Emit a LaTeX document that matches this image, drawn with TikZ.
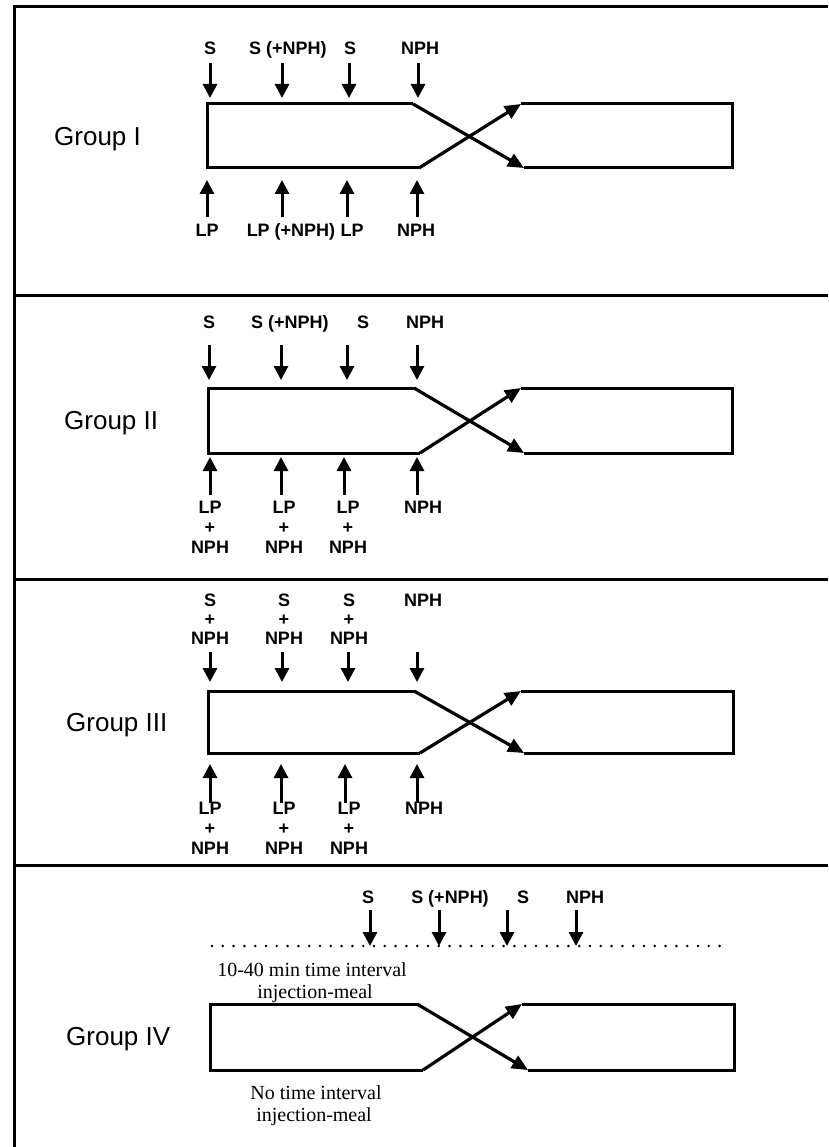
\documentclass[tikz,border=0pt]{standalone}
\usepackage{fontspec}
\usetikzlibrary{arrows.meta}
\newfontfamily\sansf{Liberation Sans}
\newfontfamily\seriff{Liberation Serif}
\begin{document}
\begin{tikzpicture}[x=1pt,y=-1pt,
  lab/.style={font=\sansf\bfseries\fontsize{18}{18}\selectfont, inner sep=0pt, text height=12.9pt, text depth=0pt},
  grp/.style={font=\sansf\fontsize{26}{26}\selectfont, inner sep=0pt, text height=18.6pt, text depth=0pt, anchor=west},
  note/.style={font=\seriff\fontsize{20}{20}\selectfont, inner sep=0pt, text height=13.2pt, text depth=0pt},
  frame/.style={line width=3pt},
  boxline/.style={line width=3pt, line join=miter},
  arr/.style={line width=3pt, -{Triangle[length=14pt,width=14pt]}},
  diag/.style={line width=3.2pt, -{Triangle[length=16pt,width=14pt]}},
  dotline/.style={line width=2.8pt, dash pattern=on 0pt off 10.8pt, line cap=round}
]
\useasboundingbox (0,0) rectangle (828,1147);
\fill[white] (0,0) rectangle (828,1147);

% frame and separators
\coordinate (ftl) at (14,7);
\coordinate (ftr) at (828,7);
\coordinate (fbl) at (14,1147);
\draw[frame] (ftr) -- (ftl) -- (fbl);
\foreach \i/\y in {1/295,2/579,3/865} {
  \coordinate (sepL\i) at (14,\y);
  \coordinate (sepR\i) at (828,\y);
  \draw[frame] (sepL\i) -- (sepR\i);
}

% crossover shapes
\foreach \g/\yt/\yb/\xl/\xtc/\xbc/\xrt/\xrb/\xr in {
  1/104/168/207/413/419/521/524/732,
  2/388/453/208/414/420/521/524/732,
  3/691/753/208/414/420/521/524/733,
  4/1004/1070/210/417/423/522/528/734} {
  \coordinate (g\g-tl) at (\xl,\yt);
  \coordinate (g\g-bl) at (\xl,\yb);
  \coordinate (g\g-tc) at (\xtc,\yt);
  \coordinate (g\g-bc) at (\xbc,\yb);
  \coordinate (g\g-rt) at (\xrt,\yt);
  \coordinate (g\g-rb) at (\xrb,\yb);
  \coordinate (g\g-rtr) at (\xr,\yt);
  \coordinate (g\g-rbr) at (\xr,\yb);
  \draw[boxline] (g\g-tc) -- (g\g-tl) -- (g\g-bl) -- (g\g-bc);
  \draw[diag] (g\g-tc) -- (g\g-rb);
  \draw[diag] (g\g-bc) -- (g\g-rt);
  \draw[boxline] (g\g-rt) -- (g\g-rtr) -- (g\g-rbr) -- (g\g-rb);
}

% group labels
\node[grp] (grp1) at (54,136.5) {Group I};
\node[grp] (grp2) at (64,420) {Group II};
\node[grp] (grp3) at (66,722) {Group III};
\node[grp] (grp4) at (66,1036) {Group IV};

% arrows
\foreach \n/\x/\ya/\yb in {
  a1/210/63/98, a2/282/63/98, a3/349/63/98, a4/418/63/98,
  b1/207/217/180, b2/282/217/180, b3/347/217/180, b4/417/217/180,
  c1/209/345/380, c2/281/345/380, c3/347/345/380, c4/417/345/380,
  d1/210/495/457, d2/281/495/457, d3/344/495/457, d4/417/495/457,
  e1/210/652/682, e2/282/652/682, e3/348/652/682, e4/417/652/682,
  f1/210/803/764, f2/281/803/764, f3/345/803/764, f4/417/803/764,
  h1/370/910/946, h2/439/910/946, h3/507/910/946, h4/576/910/946} {
  \coordinate (\n s) at (\x,\ya);
  \coordinate (\n e) at (\x,\yb);
  \draw[arr] (\n s) -- (\n e);
}

% Group I labels
\node[lab] (l1a) at (210,48) {S};
\node[lab] (l1b) at (288,48) {S (+NPH)};
\node[lab] (l1c) at (350,48) {S};
\node[lab] (l1d) at (420,48) {NPH};
\node[lab] (l1e) at (207,230) {LP};
\node[lab] (l1f) at (291,230) {LP (+NPH)};
\node[lab] (l1g) at (352,230) {LP};
\node[lab] (l1h) at (416,230) {NPH};

% Group II labels
\node[lab] (l2a) at (209,322) {S};
\node[lab] (l2b) at (290,322) {S (+NPH)};
\node[lab] (l2c) at (363,322) {S};
\node[lab] (l2d) at (425,322) {NPH};
\foreach \k/\x in {1/210,2/284,3/348} {
  \node[lab] (l2lp\k) at (\x,507) {LP};
  \node[lab] (l2pl\k) at (\x,527) {+};
  \node[lab] (l2np\k) at (\x,547) {NPH};
}
\node[lab] (l2h) at (423,507) {NPH};

% Group III labels
\foreach \k/\x in {1/210,2/284,3/349} {
  \node[lab] (l3s\k) at (\x,600) {S};
  \node[lab] (l3p\k) at (\x,619) {+};
  \node[lab] (l3n\k) at (\x,638) {NPH};
  \node[lab] (l3lp\k) at (\x,808) {LP};
  \node[lab] (l3pl\k) at (\x,828) {+};
  \node[lab] (l3np\k) at (\x,848) {NPH};
}
\node[lab] (l3d) at (423,600) {NPH};
\node[lab] (l3h) at (424,808) {NPH};

% Group IV labels
\node[lab] (l4a) at (368,897) {S};
\node[lab] (l4b) at (450,897) {S (+NPH)};
\node[lab] (l4c) at (523,897) {S};
\node[lab] (l4d) at (585,897) {NPH};

\coordinate (dotL) at (212,946);
\coordinate (dotR) at (729,946);
\draw[dotline] (dotL) -- (dotR);

\node[note] (n1) at (312,970) {10-40 min time interval};
\node[note] (n2) at (315,992) {injection-meal};
\node[note] (n3) at (316,1093) {No time interval};
\node[note] (n4) at (314,1115) {injection-meal};
\end{tikzpicture}
\end{document}
